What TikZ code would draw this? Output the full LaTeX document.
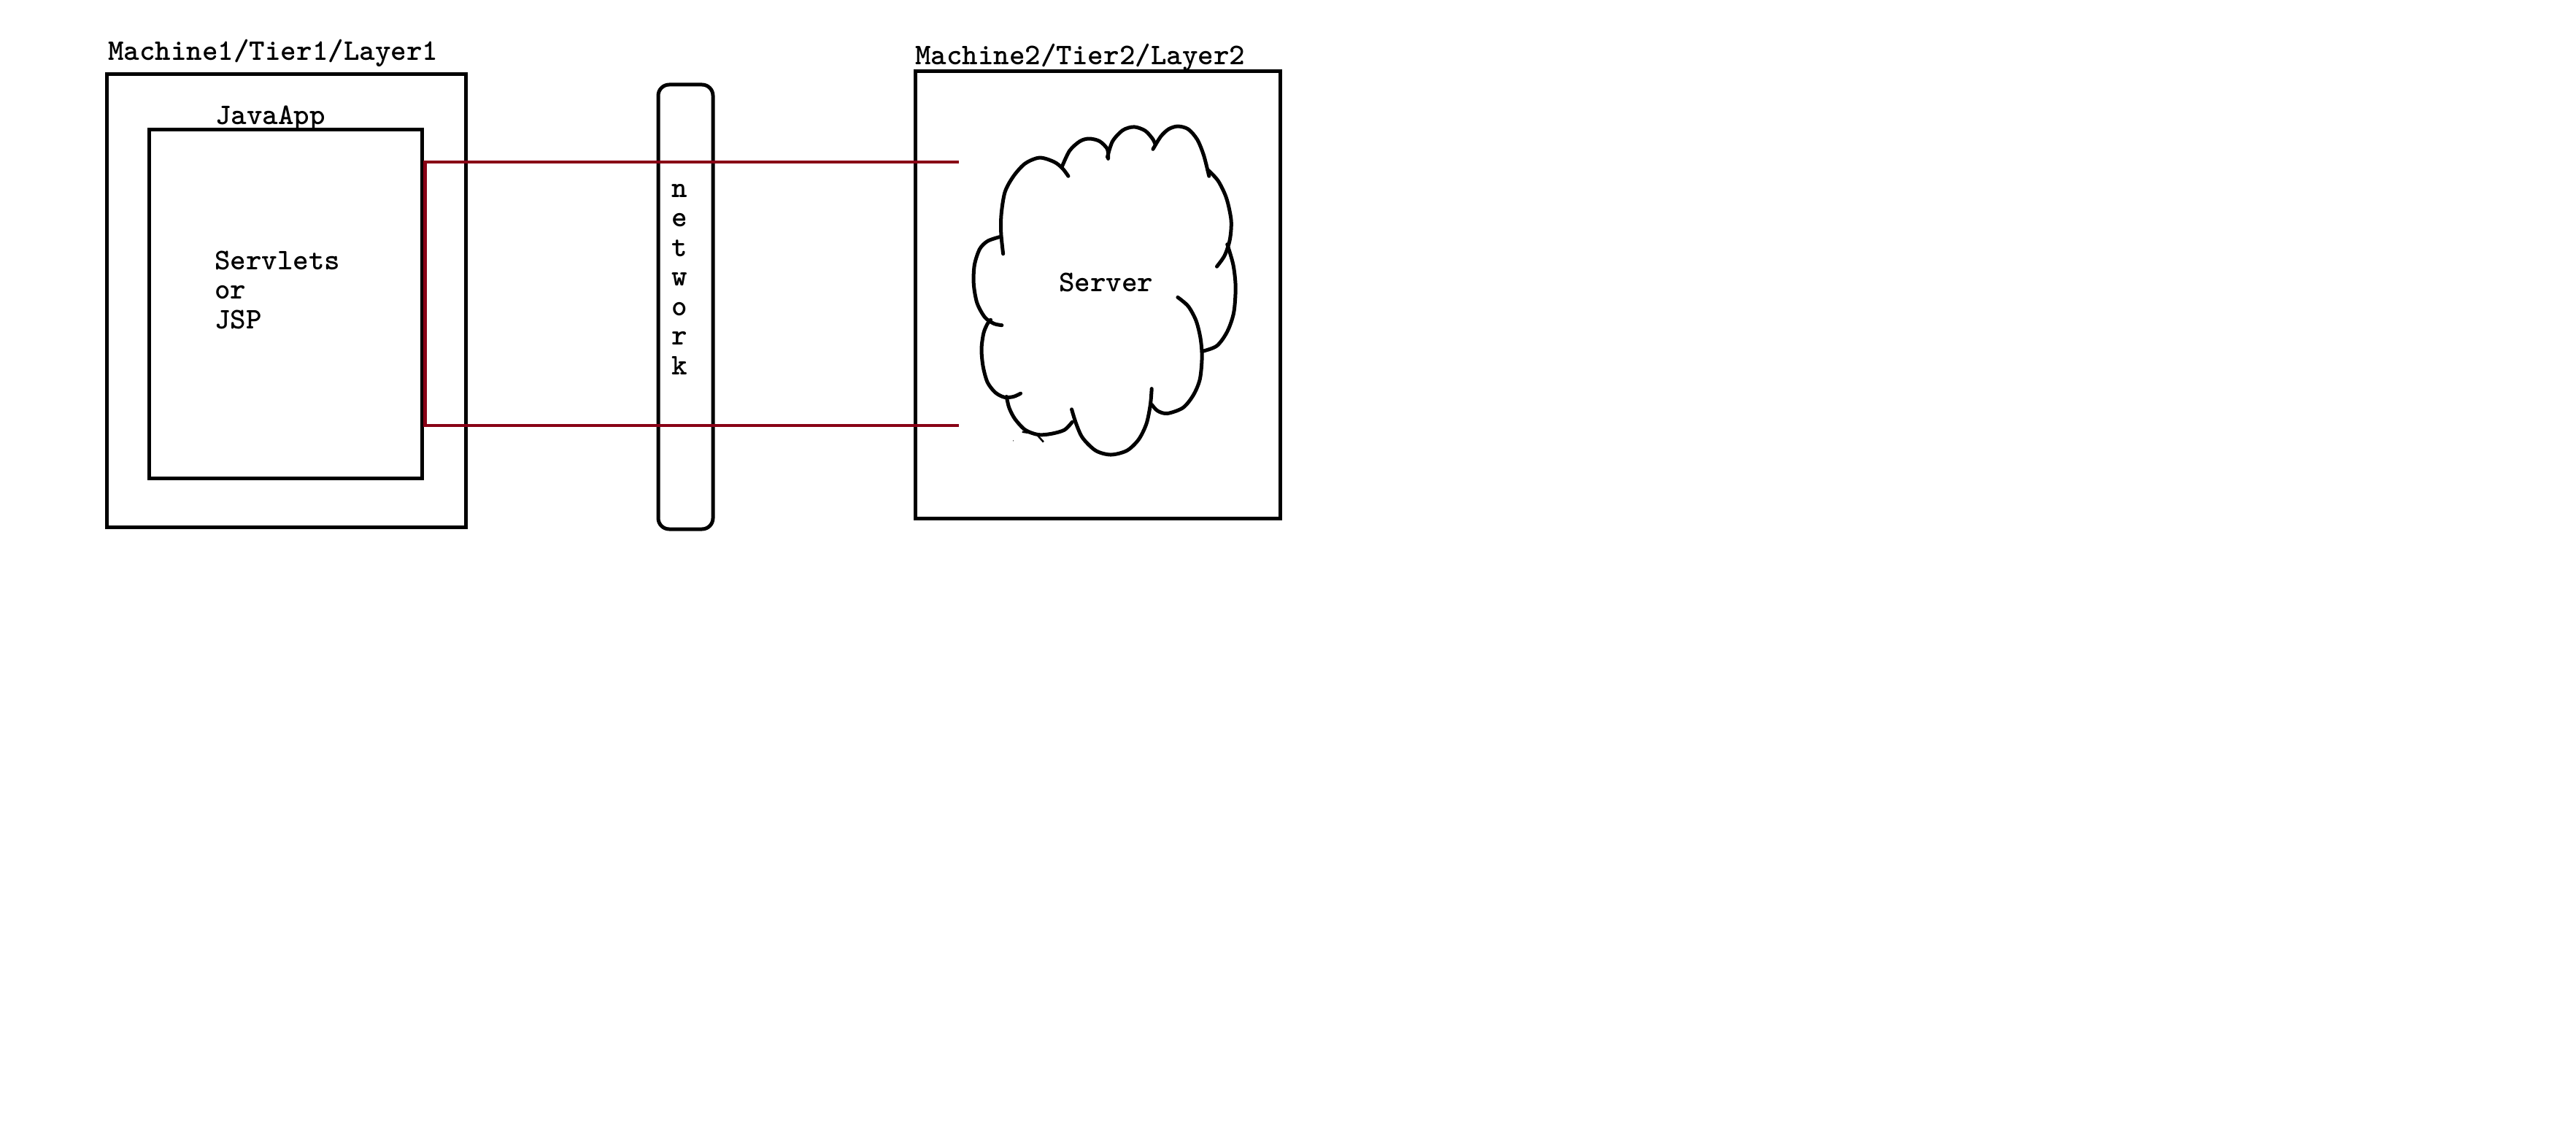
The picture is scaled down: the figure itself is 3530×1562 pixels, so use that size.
\documentclass[tikz,border=0pt]{standalone}
\usepackage{fontspec}
\definecolor{wire}{RGB}{136,0,21}
\begin{document}
\begin{tikzpicture}[x=1pt,y=-1pt,
  frame/.style={draw=black,line width=5pt,inner sep=0pt},
  label/.style={inner sep=0pt,font=\ttfamily\bfseries\addfontfeatures{FakeBold=3}\fontsize{41}{40.5}\selectfont},
  wireline/.style={draw=wire,line width=4.5pt},
  cloudline/.style={line width=5pt,line cap=round,line join=round}]
% canvas
\fill[white] (0,0) rectangle (3530,1562);
\useasboundingbox (0,0) rectangle (3530,1562);

% machine 1 with the Java application
\node[frame, minimum width=492pt, minimum height=620pt] (m1) at (392,412) {};
\node[frame, minimum width=374pt, minimum height=477pt] (app) at (391,416.5) {};
\node[label, anchor=base west] (m1t) at (148,83) {Machine1/Tier1/Layer1};
\node[label, anchor=base west] (appt) at (295,171) {JavaApp};
\node[label, anchor=base west, align=left] (jsp) at (294,450) {Servlets\\or\\JSP};

% network bar
\node[frame, rounded corners=15pt, minimum width=75pt, minimum height=609pt] (net) at (939.5,420.5) {};
\node[label, anchor=base, align=center] (nett) at (931,513) {n\\e\\t\\w\\o\\r\\k};

% machine 2 with the server
\node[frame, minimum width=500pt, minimum height=612pt] (m2) at (1504,404) {};
\node[label, anchor=base west] (m2t) at (1254,89) {Machine2/Tier2/Layer2};
\node[label, anchor=base west] (srv) at (1451,399) {Server};

% server cloud, sketched bump by bump
\begin{scope}[shift={(1230,50)}, xscale=1/2.8, yscale=1/2.3]
\draw[cloudline] plot[smooth] coordinates {(405,685) (397,620) (398,560) (412,490) (445,440) (490,400) (545,382) (600,395) (632,415) (655,440)};
\draw[cloudline] plot[smooth] coordinates {(630,412) (660,360) (700,330) (735,322) (775,330) (805,355) (808,385)};
\draw[cloudline] plot[smooth] coordinates {(805,380) (825,330) (865,295) (908,285) (950,297) (978,322) (988,338)};
\draw[cloudline] plot[smooth] coordinates {(980,355) (1010,315) (1040,292) (1075,283) (1115,292) (1150,325) (1175,375) (1195,440)};
\draw[cloudline] plot[smooth] coordinates {(1190,420) (1230,455) (1262,510) (1280,580) (1275,640) (1255,690) (1225,725)};
\draw[cloudline] plot[smooth] coordinates {(1265,655) (1288,720) (1297,790) (1290,870) (1265,930) (1225,975) (1170,992)};
\draw[cloudline] plot[smooth] coordinates {(1075,822) (1115,850) (1145,895) (1162,950) (1168,1010) (1160,1080) (1135,1130) (1095,1170) (1035,1188) (998,1180) (975,1160)};
\draw[cloudline] plot[smooth] coordinates {(975,1110) (970,1160) (955,1220) (925,1270) (880,1305) (818,1318) (760,1305) (710,1265) (685,1220) (668,1175)};
\draw[cloudline] plot[smooth] coordinates {(670,1215) (640,1240) (590,1252) (540,1255) (490,1240) (450,1205) (428,1170) (418,1135)};
\draw[cloudline] plot[smooth] coordinates {(472,1125) (445,1135) (410,1137) (375,1122) (345,1090) (328,1040) (322,985) (330,935) (345,905) (357,893)};
\draw[cloudline] plot[smooth] coordinates {(400,910) (370,905) (335,885) (305,840) (292,780) (295,720) (315,670) (345,645) (390,632)};
\draw[line width=2.5pt] (478,1246) -- (512,1250);
\draw[line width=2.5pt] (538,1258) -- (560,1278);
\fill (444,1274) circle (1.5pt);
\end{scope}

% connection from the application across the network to the server
\coordinate (rt) at (1314,222);
\coordinate (rb) at (1314,583);
\draw[wireline] (rt) -- ([xshift=2pt]rt -| app.east) -- ([xshift=2pt]rb -| app.east) -- (rb);
\end{tikzpicture}
\end{document}
